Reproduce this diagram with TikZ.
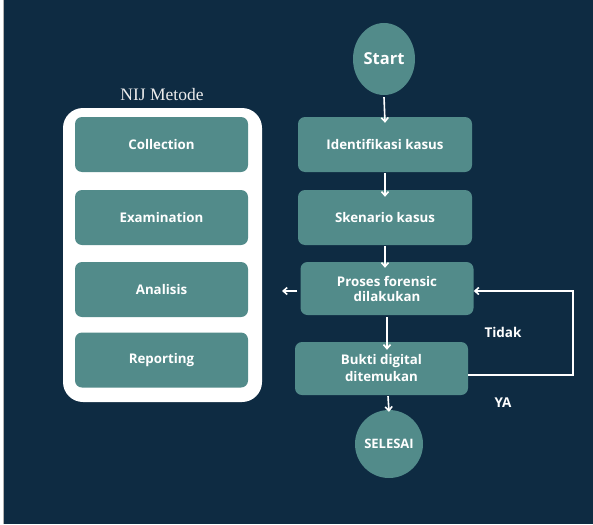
\documentclass[tikz,border=0pt]{standalone}
\usepackage{fontspec}
\setmainfont{Open Sans}
\newfontfamily\serifnij{Liberation Serif}
\usetikzlibrary{arrows.meta,shapes.geometric}
\definecolor{bgnavy}{HTML}{0E2B42}
\definecolor{tealbox}{HTML}{528B8A}
\begin{document}
\begin{tikzpicture}[x=1pt,y=-1pt,
  procbox/.style={fill=tealbox,rounded corners=7pt,minimum width=174pt,minimum height=55pt,
     text=white,font=\bfseries\fontsize{13.3}{15}\selectfont,align=center,inner sep=0pt},
  nijbox/.style={fill=tealbox,rounded corners=7pt,minimum width=173pt,minimum height=55pt,
     text=white,font=\bfseries\fontsize{13.3}{15}\selectfont,align=center,inner sep=0pt},
  flow/.style={draw=white,line width=1.6pt,-{Straight Barb[length=4pt,width=7pt]}},
  lbl/.style={text=white,font=\bfseries\fontsize{13.5}{15}\selectfont}]
\useasboundingbox (0,0) rectangle (593,524);
\fill[white] (0,0) rectangle (593,524);
\fill[bgnavy] (4,0) rectangle (593,524);
\draw[gray!60,line width=0.8pt] (3.5,0) -- (3.5,524);
% left panel
\node[text=white!85!gray,font=\serifnij\fontsize{17.5}{19}\selectfont] (nij) at (162,95) {NIJ Metode};
\node[fill=white,rounded corners=20pt,minimum width=199pt,minimum height=294pt,inner sep=0pt] (panel) at (162.5,255) {};
\node[nijbox] (coll) at (161.5,144.5) {Collection};
\node[nijbox] (exam) at (161.5,217.5) {Examination};
\node[nijbox] (anal) at (161.5,289.5) {Analisis};
\node[nijbox] (rep) at (161.5,360) {Reporting};
% flow
\node[ellipse,fill=tealbox,minimum width=62pt,minimum height=72pt,inner sep=0pt,text=white,
      font=\bfseries\fontsize{16.5}{18}\selectfont] (start) at (384,59) {Start};
\node[procbox] (ident) at (385,144.5) {Identifikasi kasus};
\node[procbox] (sken) at (385,217.5) {Skenario kasus};
\node[procbox,minimum width=173pt,minimum height=53pt,font=\bfseries\fontsize{13.3}{15}\selectfont] (proses) at (387,288.5) {Proses forensic\\dilakukan};
\node[procbox,minimum width=173pt,minimum height=53pt,font=\bfseries\fontsize{13.3}{17}\selectfont] (bukti) at (381.5,368.5) {Bukti digital\\ditemukan};
\node[circle,fill=tealbox,minimum size=68pt,inner sep=0pt,text=white,
      font=\bfseries\fontsize{13}{15}\selectfont] (sel) at (389,444) {SELESAI};
\coordinate (leftend) at (282,291);
\coordinate (fbr) at (573,375);
\coordinate (fbt) at (573,291);
\draw[flow] ([yshift=-2pt]start.south) -- ([yshift=-6pt]ident.north);
\draw[flow] ([yshift=-1pt]ident.south) -- ([yshift=-7pt]sken.north);
\draw[flow] ([yshift=-1pt]sken.south) -- ([xshift=-2pt,yshift=-6pt]proses.north);
\draw[flow] (proses.west |- leftend) ++(-3,0) -- (leftend);
\draw[flow] ([yshift=-2pt]proses.south) -- ([xshift=5.5pt,yshift=-8pt]bukti.north);
\draw[flow] ([xshift=6.5pt,yshift=-1pt]bukti.south) -- ([yshift=-2pt]sel.north);
\draw[draw=white,line width=1.6pt,-{Straight Barb[length=4pt,width=7pt]}] (bukti.east |- fbr) -- (fbr) -- (fbt) -- (proses.east |- fbt);
\node[lbl] (tidak) at (503,332) {Tidak};
\node[lbl] (ya) at (503,403) {YA};
\end{tikzpicture}
\end{document}
